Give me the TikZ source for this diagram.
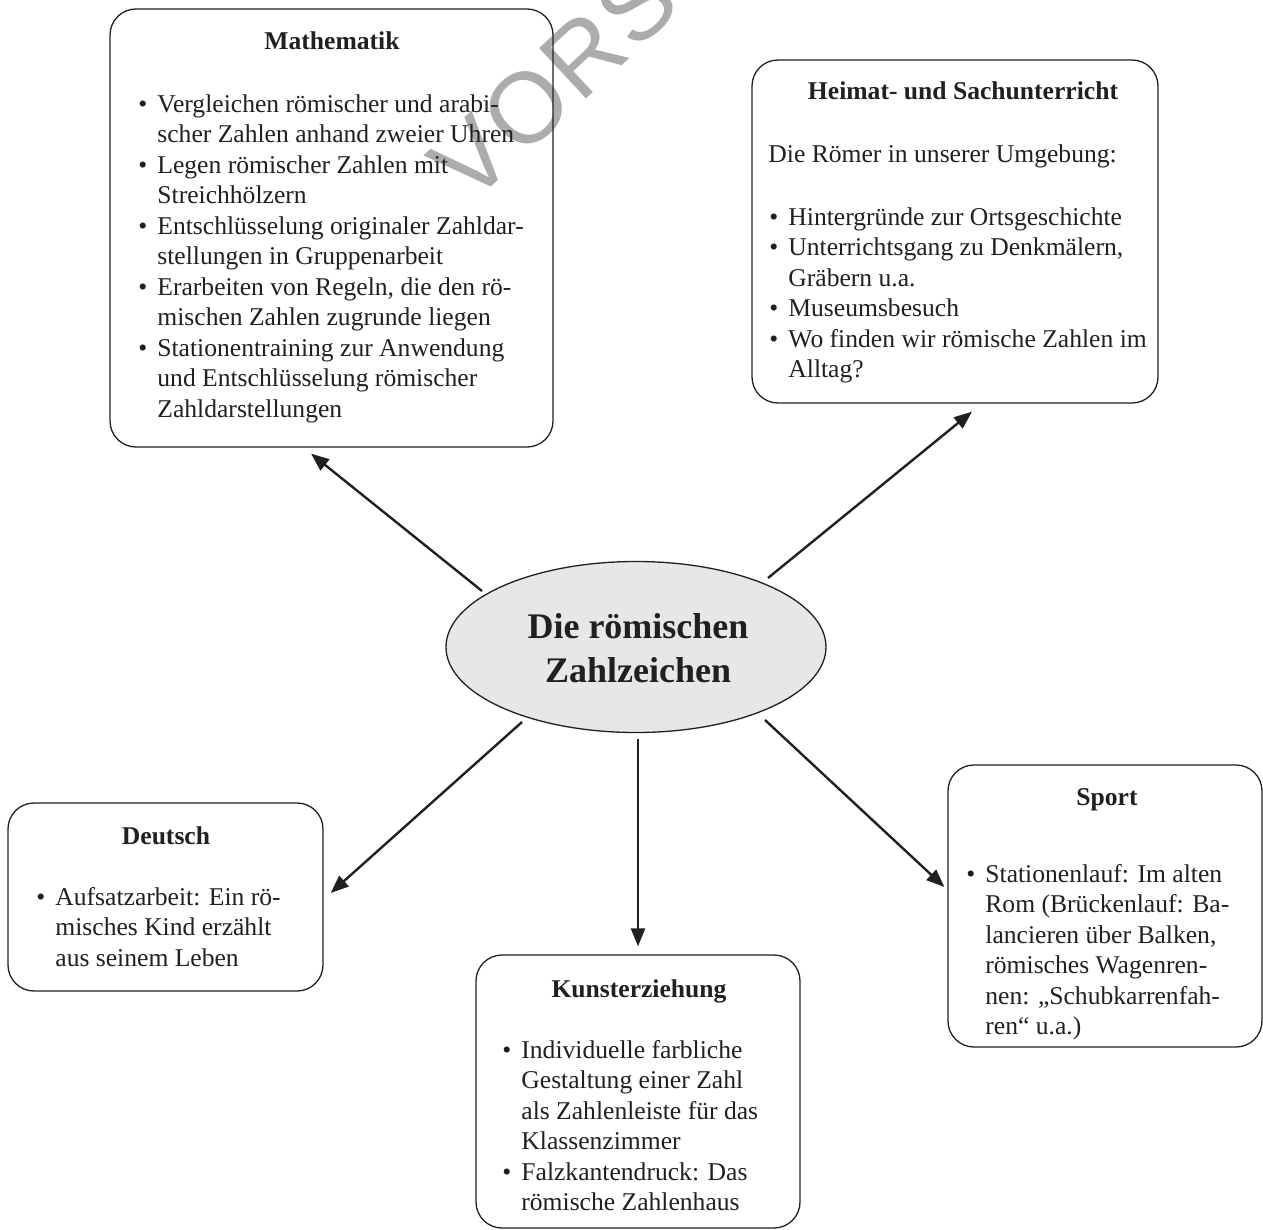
\documentclass[tikz,border=0pt]{standalone}
\usepackage{fontspec}
\setmainfont{Liberation Serif}
\newfontfamily\wmfont[LetterSpace=3]{Liberation Sans}
\usetikzlibrary{arrows.meta,shapes.geometric}
\definecolor{ink}{HTML}{231F20}
\definecolor{ellfill}{RGB}{230,231,233}
\definecolor{wmgray}{RGB}{172,172,172}
\newcommand{\bl}{\makebox[9.5pt][l]{•}}
\newcommand{\hh}{\hspace*{9.5pt}}
\newcommand{\fl}{\rule{0pt}{11pt}}
\begin{document}
\begin{tikzpicture}[x=0.5pt,y=-0.5pt,
  box/.style={draw=ink, line width=0.65pt, rounded corners=13pt, inner sep=0pt},
  titletext/.style={font=\bfseries\fontsize{12.8}{15.25}\selectfont, text=ink, inner sep=0pt, anchor=base},
  bodytext/.style={font=\fontsize{12.8}{15.25}\selectfont, text=ink, align=left, inner sep=0pt, anchor=north west},
  arr/.style={draw=ink, line width=1.2pt, -{Triangle[length=9pt,width=7pt]}}]
\useasboundingbox (0,0) rectangle (1263,1230);
\clip (0,0) rectangle (1263,1230);
\fill[white] (0,0) rectangle (1263,1230);
% watermark
\node[font=\wmfont\fontsize{50}{60}\selectfont, text=wmgray, rotate=43, anchor=base west, inner sep=0pt] (wm) at (470,207) {VORSCHAU};

% boxes
\node[box, minimum width=221.5pt, minimum height=219pt] (math) at (331.5,228) {};
\node[box, minimum width=203pt, minimum height=171.5pt] (heim) at (955,231.5) {};
\node[box, minimum width=157.5pt, minimum height=94pt] (deu) at (165.5,897) {};
\node[box, minimum width=162pt, minimum height=136.5pt] (kunst) at (638,1091.5) {};
\node[box, minimum width=157pt, minimum height=141pt] (sport) at (1105,906) {};

% centre
\node[ellipse, draw=ink, fill=ellfill, line width=0.65pt, minimum width=190pt, minimum height=85.5pt, inner sep=0pt] (c) at (636,647) {};
\node[font=\bfseries\fontsize{18}{22}\selectfont, text=ink, align=center, inner sep=0pt, anchor=north] (ct) at (638,608) {\rule{0pt}{15pt}Die römischen\\Zahlzeichen};

% Mathematik
\node[titletext] (mathT) at (332,50) {Mathematik};
\node[bodytext] (mathB) at (138,90) {\fl\bl Vergleichen römischer und arabi-\\
\hh scher Zahlen anhand zweier Uhren\\
\bl Legen römischer Zahlen mit\\
\hh Streichhölzern\\
\bl Entschlüsselung originaler Zahldar-\\
\hh stellungen in Gruppenarbeit\\
\bl Erarbeiten von Regeln, die den rö-\\
\hh mischen Zahlen zugrunde liegen\\
\bl Stationentraining zur Anwendung\\
\hh und Entschlüsselung römischer\\
\hh Zahldarstellungen};

% Heimat
\node[titletext] (heimT) at (963,100) {Heimat- und Sachunterricht};
\node[bodytext, anchor=base west] (heimI) at (768,163) {Die Römer in unserer Umgebung:};
\node[bodytext] (heimB) at (769,203) {\fl\bl Hintergründe zur Ortsgeschichte\\
\bl Unterrichtsgang zu Denkmälern,\\
\hh Gräbern u.a.\\
\bl Museumsbesuch\\
\bl Wo finden wir römische Zahlen im\\
\hh Alltag?};

% Deutsch
\node[titletext] (deuT) at (166,844) {Deutsch};
\node[bodytext] (deuB) at (36,883) {\fl\bl Aufsatzarbeit: Ein rö-\\
\hh misches Kind erzählt\\
\hh aus seinem Leben};

% Kunst
\node[titletext] (kunstT) at (639,997) {Kunsterziehung};
\node[bodytext] (kunstB) at (502,1036) {\fl\bl Individuelle farbliche\\
\hh Gestaltung einer Zahl\\
\hh als Zahlenleiste für das\\
\hh Klassenzimmer\\
\bl Falzkantendruck: Das\\
\hh römische Zahlenhaus};

% Sport
\node[titletext] (sportT) at (1107,805) {Sport};
\node[bodytext] (sportB) at (966,860) {\fl\bl Stationenlauf: Im alten\\
\hh Rom (Brückenlauf: Ba-\\
\hh lancieren über Balken,\\
\hh römisches Wagenren-\\
\hh nen: „Schubkarrenfah-\\
\hh ren“ u.a.)};

% arrows
\draw[arr] ([shift={(-154,-56)}]c.center) -- ([shift={(-20.5,6)}]math.south);
\draw[arr] ([shift={(132,-69)}]c.center) -- ([shift={(17,8)}]heim.south);
\draw[arr] ([shift={(-114,75)}]c.center) -- ([shift={(7,-4)}]deu.east);
\draw[arr] ([shift={(2,92)}]c.center) -- ([shift={(0,-8)}]kunst.north);
\draw[arr] ([shift={(129,73)}]c.center) -- ([shift={(-3,-19)}]sport.west);
\end{tikzpicture}
\end{document}
